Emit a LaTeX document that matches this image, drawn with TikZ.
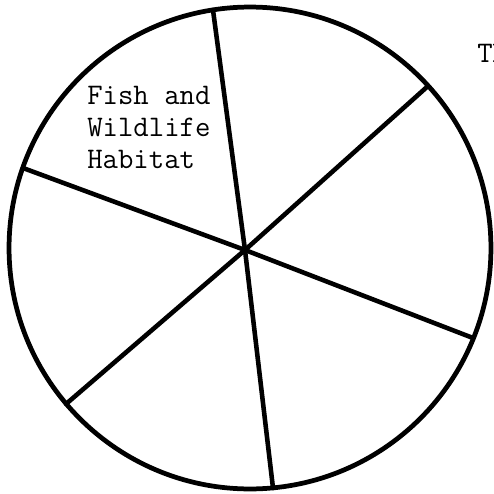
\documentclass[tikz,border=0pt]{standalone}
\usepackage{tikz}
\usetikzlibrary{positioning}

\tikzset{
  rim/.style={line width=2.7pt},
  spoke/.style={line width=2.6pt, line cap=round},
  label/.style={font=\ttfamily\fontsize{17}{18.2}\selectfont, inner sep=0pt, align=left}
}

\begin{document}
\begin{tikzpicture}[x=0.02cm, y=-0.02cm]
\useasboundingbox (0,0) rectangle (494,494);

% Outer circle
\coordinate (ctr) at (250,248);
\draw[rim] (ctr) circle [radius=4.82cm];

% Hub and rim points
\coordinate (hub) at (245,250);
\coordinate (top) at (213,10);
\coordinate (upright) at (428,86);
\coordinate (right) at (473,338);
\coordinate (bottom) at (273,488);
\coordinate (lowleft) at (66,404);
\coordinate (left) at (23,168);

% Spokes
\draw[spoke] (hub) -- (top);
\draw[spoke] (hub) -- (upright);
\draw[spoke] (hub) -- (right);
\draw[spoke] (hub) -- (bottom);
\draw[spoke] (hub) -- (lowleft);
\draw[spoke] (hub) -- (left);

% Labels
\node[label, anchor=north west] (habitat) at (87,86) {Fish and\\Wildlife\\Habitat};
\node[label, anchor=base west] (cut) at (477,62) {Th};

\end{tikzpicture}
\end{document}
